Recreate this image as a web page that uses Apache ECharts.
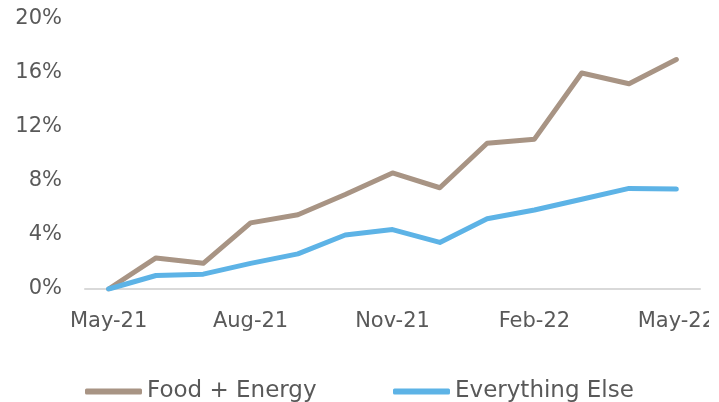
<!DOCTYPE html>
<html><head><meta charset="utf-8">
<script src="https://cdn.jsdelivr.net/npm/echarts@6/dist/echarts.min.js"></script>
<style>html,body{margin:0;padding:0;background:#fff;}#c{width:709px;height:402px;overflow:hidden;}</style>
</head><body><div id="c"></div>
<script>
const categories = ['May-21','Jun-21','Jul-21','Aug-21','Sep-21','Oct-21','Nov-21','Dec-21','Jan-22','Feb-22','Mar-22','Apr-22','May-22'];
const foodEnergy = [0, 2.3, 1.9, 4.9, 5.5, 7.0, 8.6, 7.5, 10.8, 11.1, 16.0, 15.2, 17.0];
const everythingElse = [0, 1.0, 1.1, 1.9, 2.6, 4.0, 4.4, 3.45, 5.2, 5.85, 6.65, 7.45, 7.4];
const yTicks = [0, 4, 8, 12, 16, 20];

const chart = echarts.init(document.getElementById('c'), null, {renderer:'canvas'});
const font = 'DejaVu Sans';
const txt = {fontFamily:font, fontSize:21, color:'#595959'};
const legTxt = {fontFamily:font, fontSize:23, color:'#595959'};
chart.setOption({
  animation:false,
  grid:{left:85, right:9, top:19, bottom:113, containLabel:false, outerBoundsMode:'none'},
  legend:[
    {left:80, top:375, icon:'roundRect', itemWidth:57, itemHeight:6, itemGap:4, textStyle:legTxt, data:['Food + Energy']},
    {left:388, top:375, icon:'roundRect', itemWidth:57, itemHeight:6, itemGap:4, textStyle:legTxt, data:['Everything Else']}
  ],
  xAxis:{
    type:'category', data:categories, boundaryGap:true,
    axisLine:{lineStyle:{color:'#D9D9D9', width:2}},
    axisTick:{show:false},
    axisLabel:Object.assign({interval:2, margin:22, hideOverlap:false}, txt)
  },
  yAxis:{
    type:'value', min:yTicks[0], max:yTicks[yTicks.length-1], interval:4,
    axisLine:{show:false}, axisTick:{show:false}, splitLine:{show:false},
    axisLabel:Object.assign({margin:23, formatter:v=>v+'%'}, txt)
  },
  series:[
    {name:'Food + Energy', type:'line', data:foodEnergy, symbol:'none',
     lineStyle:{color:'#A89484', width:5, cap:'round', join:'round'}, itemStyle:{color:'#A89484'}},
    {name:'Everything Else', type:'line', data:everythingElse, symbol:'none',
     lineStyle:{color:'#5DB3E6', width:5, cap:'round', join:'round'}, itemStyle:{color:'#5DB3E6'}}
  ]
});
</script></body></html>
